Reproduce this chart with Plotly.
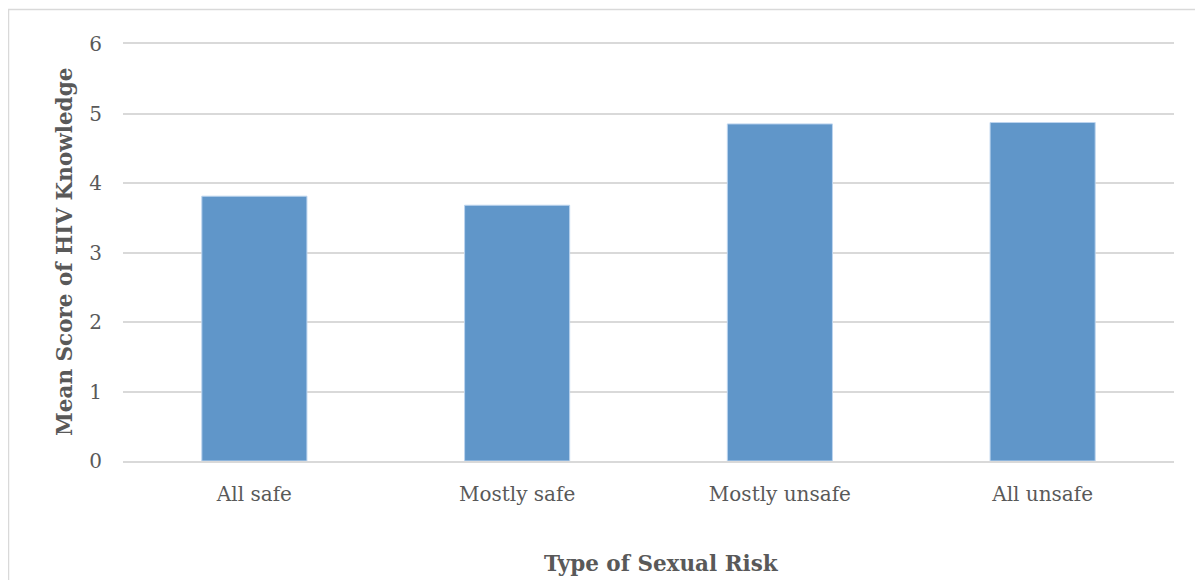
import plotly.graph_objects as go

categories = ["All safe", "Mostly safe", "Mostly unsafe", "All unsafe"]
mean_scores = [3.81, 3.68, 4.85, 4.87]
y_ticks = [0, 1, 2, 3, 4, 5, 6]

OFF = 8  # browser body margin
W, H = 1203 - OFF, 580 - OFF
L, R, T, B = 123 - OFF, 29, 44 - OFF, 119
pw, ph = W - L - R, H - T - B

def px_x(p):
    return (p - OFF - L) / pw

def px_y(p):
    return (H - B - (p - OFF)) / ph

FONT = "DejaVu Serif"
GREY = "#595959"

fig = go.Figure()
fig.add_trace(go.Bar(
    x=categories, y=mean_scores,
    marker=dict(color="#6096C9", line=dict(color="#bcd4ee", width=1)),
    width=0.4,
))

fig.update_layout(
    width=W, height=H,
    margin=dict(l=L, r=R, t=T, b=B, autoexpand=False),
    paper_bgcolor="white", plot_bgcolor="white",
    showlegend=False,
    font=dict(family=FONT, size=20, color=GREY),
    xaxis=dict(showgrid=False, showline=True, mirror=True, linecolor="#d9d9d9", linewidth=2,
               ticks="", ticklabelstandoff=14,
               tickfont=dict(family=FONT, size=20, color=GREY)),
    yaxis=dict(range=[y_ticks[0], y_ticks[-1]], tickvals=y_ticks, showgrid=True,
               gridcolor="#d9d9d9", gridwidth=2, zeroline=False, showline=False,
               ticks="", ticklabelstandoff=20,
               tickfont=dict(family=FONT, size=20, color=GREY)),
    shapes=[dict(type="rect", xref="paper", yref="paper",
                 x0=px_x(8.5), x1=px_x(1260), y0=px_y(650), y1=px_y(9.5),
                 line=dict(color="#d9d9d9", width=1.5), fillcolor="rgba(0,0,0,0)",
                 layer="below")],
    annotations=[
        dict(text="<b>Mean Score of HIV Knowledge</b>", xref="paper", yref="paper",
             x=px_x(64), y=px_y(252), textangle=-90, showarrow=False,
             xanchor="center", yanchor="middle",
             font=dict(family=FONT, size=21.5, color=GREY)),
        dict(text="<b>Type of Sexual Risk</b>", xref="paper", yref="paper",
             x=px_x(661), y=px_y(563), showarrow=False,
             xanchor="center", yanchor="middle",
             font=dict(family=FONT, size=21.5, color=GREY)),
    ],
)

fig.write_html("out.html")
